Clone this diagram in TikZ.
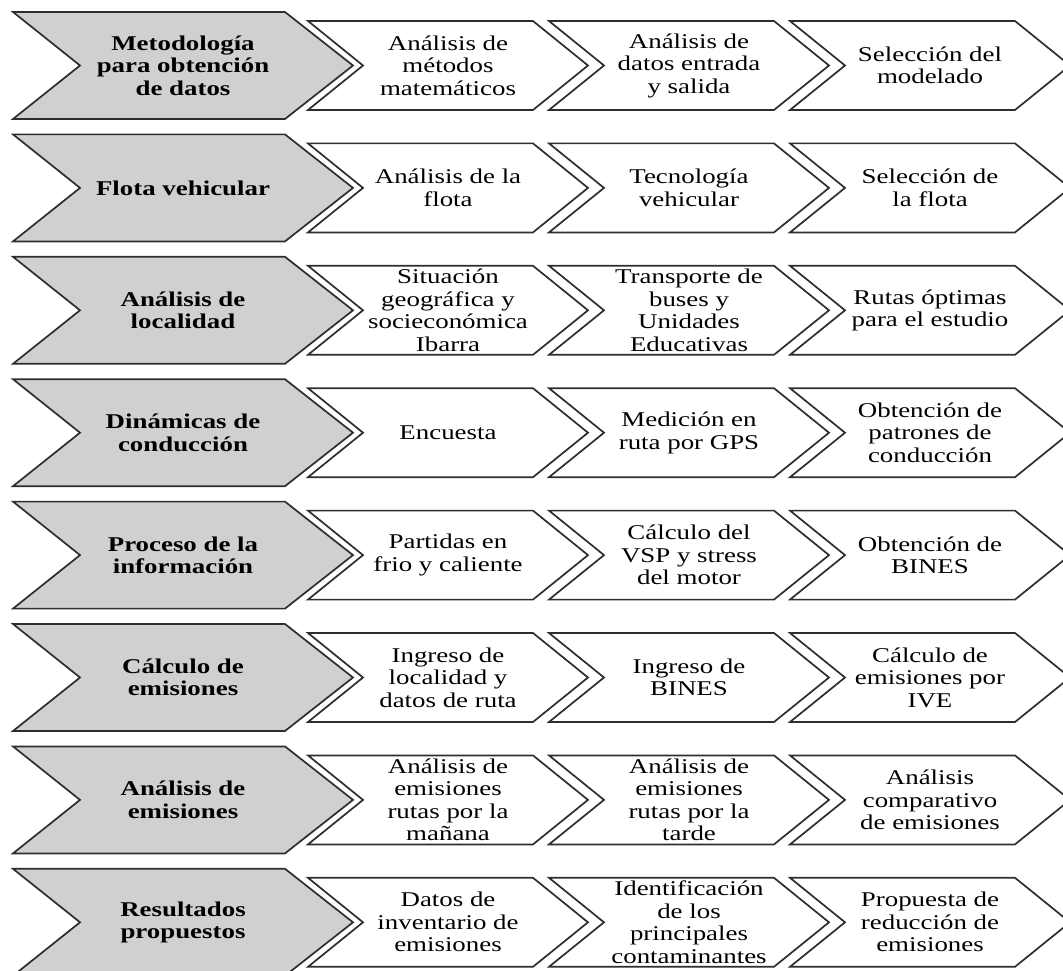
\documentclass[tikz,border=0pt]{standalone}
\usepackage{fontspec}
\setmainfont{Liberation Serif}[FakeStretch=1.28]
\definecolor{headgray}{RGB}{208,208,208}
\definecolor{edgegray}{RGB}{45,45,45}

% one row: a grey heading chevron followed by three white step chevrons
% #1 row index, #2 heading, #3-#5 step texts
\newcommand\chevrow[5]{%
  \pgfmathsetmacro\yc{65.5+122.4*#1}%
  \draw[headshape] (13,\yc-53.5) -- (285,\yc-53.5) -- (353,\yc)
      -- (285,\yc+53.5) -- (13,\yc+53.5) -- (80,\yc) -- cycle;
  \node[headtext] (h#1) at (183,\yc) {#2};
  \foreach \k/\txt in {0/{#3},1/{#4},2/{#5}}{%
    \pgfmathsetmacro\xl{308+241*\k}%
    \draw[stepshape] (\xl,\yc-44.5) -- (\xl+225,\yc-44.5) -- (\xl+280,\yc)
        -- (\xl+225,\yc+44.5) -- (\xl,\yc+44.5) -- (\xl+55,\yc) -- cycle;
    \node[steptext] (s#1-\k) at (\xl+140,\yc) {\txt};
  }%
}

\begin{document}
\begin{tikzpicture}[x=1pt,y=-1pt,
  chevline/.style={draw=edgegray, line width=1.7pt, line join=miter},
  headshape/.style={chevline, fill=headgray},
  stepshape/.style={chevline, fill=white},
  headtext/.style={font=\fontsize{21}{22.5}\selectfont\bfseries, align=center, inner sep=0pt},
  steptext/.style={font=\fontsize{21}{22.5}\selectfont, align=center, inner sep=0pt}]
\useasboundingbox (0,0) rectangle (1063,971);
\clip (0,0) rectangle (1063,971);

\chevrow{0}{Metodología\\para obtención\\de datos}{Análisis de\\métodos\\matemáticos}{Análisis de\\datos entrada\\y salida}{Selección del\\modelado}
\chevrow{1}{Flota vehicular}{Análisis de la\\flota}{Tecnología\\vehicular}{Selección de\\la flota}
\chevrow{2}{Análisis de\\localidad}{Situación\\geográfica y\\socieconómica\\Ibarra}{Transporte de\\buses y\\Unidades\\Educativas}{Rutas óptimas\\para el estudio}
\chevrow{3}{Dinámicas de\\conducción}{Encuesta}{Medición en\\ruta por GPS}{Obtención de\\patrones de\\conducción}
\chevrow{4}{Proceso de la\\información}{Partidas en\\frio y caliente}{Cálculo del\\VSP y stress\\del motor}{Obtención de\\BINES}
\chevrow{5}{Cálculo de\\emisiones}{Ingreso de\\localidad y\\datos de ruta}{Ingreso de\\BINES}{Cálculo de\\emisiones por\\IVE}
\chevrow{6}{Análisis de\\emisiones}{Análisis de\\emisiones\\rutas por la\\mañana}{Análisis de\\emisiones\\rutas por la\\tarde}{Análisis\\comparativo\\de emisiones}
\chevrow{7}{Resultados\\propuestos}{Datos de\\inventario de\\emisiones}{Identificación\\de los\\principales\\contaminantes}{Propuesta de\\reducción de\\emisiones}

\end{tikzpicture}
\end{document}
